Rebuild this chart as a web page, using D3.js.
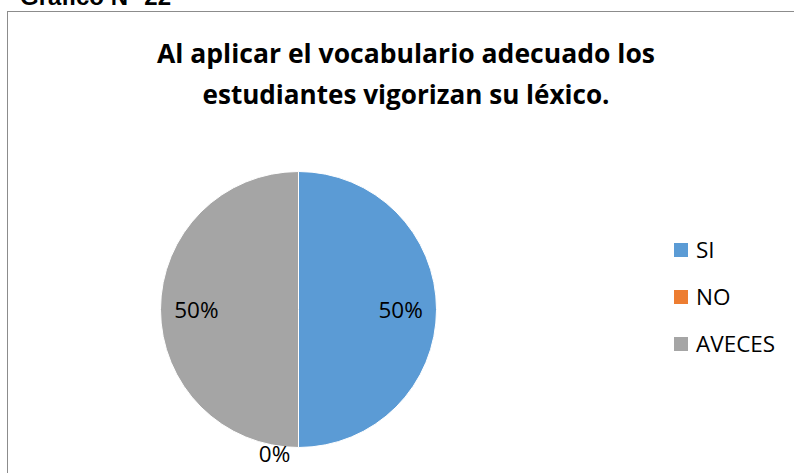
<!DOCTYPE html>
<html>
<head>
<meta charset="utf-8">
<script src="https://cdn.jsdelivr.net/npm/d3@7"></script>
<style>
  body { margin: 0; background: #fff; }
  text { font-family: "Open Sans", "DejaVu Sans", sans-serif; }
</style>
</head>
<body>
<div id="chart"></div>
<script>
  // chart data
  let categories = ['SI', 'NO', 'AVECES'];
  let values = [50, 0, 50];
  let colors = ['#5b9bd5', '#ed7d31', '#a5a5a5'];
  let titleLines = ['Al aplicar el vocabulario adecuado los', 'estudiantes vigorizan su léxico.'];

  let width = 794;
  let height = 473;
  let cx = 298.5;
  let cy = 309.5;
  let radius = 138;

  let svg = d3.select('#chart')
    .append('svg')
    .attr('width', width)
    .attr('height', height);

  // caption cut off at the top of the page
  svg.append('text')
    .attr('x', 20)
    .attr('y', 4.5)
    .attr('font-weight', 'bold')
    .attr('font-size', 24)
    .attr('fill', '#000')
    .style('font-family', 'Liberation Sans, Arial, sans-serif')
    .text('Gráfico N° 22');

  // chart area border
  svg.append('rect')
    .attr('x', 7.5)
    .attr('y', 11.5)
    .attr('width', width + 10)
    .attr('height', height)
    .attr('fill', 'none')
    .attr('stroke', '#8c8c8c')
    .attr('stroke-width', 1);

  // title, squeezed to the width of the original Calibri lines
  let titleWidths = [498, 407];
  svg.selectAll('.title')
    .data(titleLines)
    .enter().append('text')
    .attr('class', 'title')
    .attr('x', 406)
    .attr('y', (d, i) => 63 + i * 41)
    .attr('text-anchor', 'middle')
    .attr('font-weight', 'bold')
    .attr('font-size', 27)
    .attr('fill', '#000')
    .attr('textLength', (d, i) => titleWidths[i])
    .attr('lengthAdjust', 'spacingAndGlyphs')
    .text((d) => d);

  let data = categories.map((c, i) => ({ name: c, value: values[i], color: colors[i] }));

  let pie = d3.pie().sort(null).value((d) => d.value);
  let arc = d3.arc().innerRadius(0).outerRadius(radius);
  let arcs = pie(data);

  let g = svg.append('g')
    .attr('transform', `translate(${cx}, ${cy})`);

  g.selectAll('.slice')
    .data(arcs)
    .enter().append('path')
    .attr('class', 'slice')
    .attr('d', arc)
    .attr('fill', (d) => d.data.color)
    .attr('stroke', '#fff')
    .attr('stroke-width', 1);

  // data labels: inside for non-zero slices, just outside for zero ones
  let labelArc = d3.arc().innerRadius(radius * 0.74).outerRadius(radius * 0.74);
  let outArc = d3.arc().innerRadius(radius * 1.04).outerRadius(radius * 1.04);

  g.selectAll('.label')
    .data(arcs)
    .enter().append('text')
    .attr('class', 'label')
    .attr('transform', (d) => {
      let p = d.value > 0 ? labelArc.centroid(d) : outArc.centroid(d);
      return `translate(${p[0]}, ${p[1]})`;
    })
    .attr('dx', (d) => d.value > 0 ? 0 : -24)
    .attr('dy', (d) => d.value > 0 ? '0.36em' : '0.42em')
    .attr('text-anchor', 'middle')
    .attr('font-size', 22.5)
    .attr('fill', '#000')
    .text((d) => Math.round(d.value / d3.sum(values) * 100) + '%');

  // legend
  let legend = svg.selectAll('.legend')
    .data(data)
    .enter().append('g')
    .attr('class', 'legend')
    .attr('transform', (d, i) => `translate(674, ${243 + i * 47})`);

  legend.append('rect')
    .attr('width', 14)
    .attr('height', 14)
    .attr('fill', (d) => d.color);

  legend.append('text')
    .attr('x', 22)
    .attr('y', 7)
    .attr('dy', '0.36em')
    .attr('font-size', 22.5)
    .attr('fill', '#000')
    .text((d) => d.name);
</script>
</body>
</html>
